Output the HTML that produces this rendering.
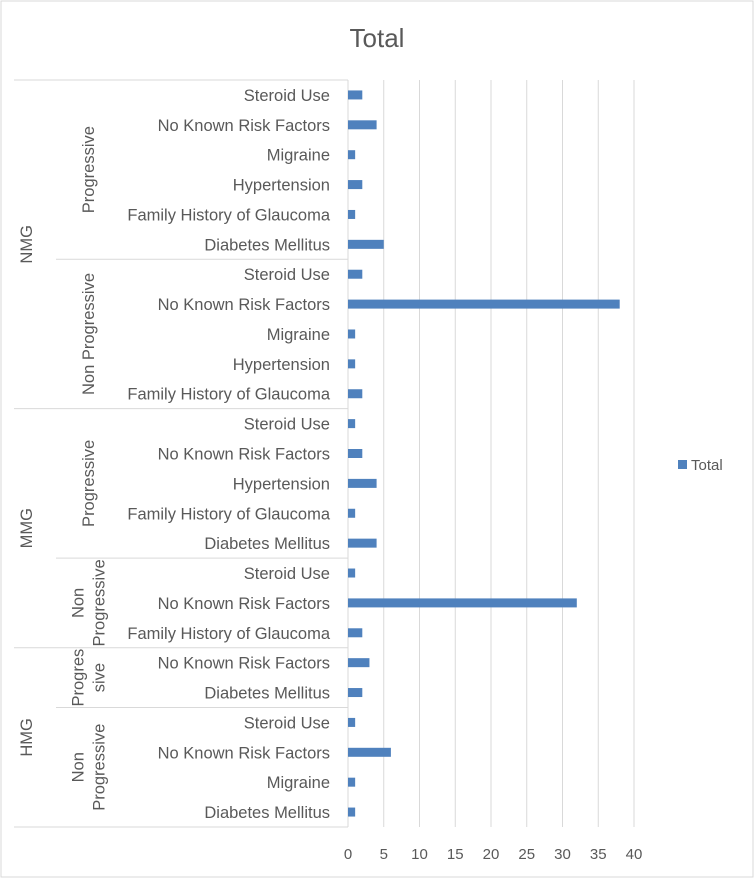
<!DOCTYPE html>
<html><head><meta charset="utf-8"><style>
body{margin:0;background:#fff}
svg{display:block;font-family:"Liberation Sans",sans-serif}
</style></head><body>
<svg id="c" width="755" height="879">
<rect x="1" y="1" width="752" height="876" fill="#fff" stroke="#d9d9d9"/>
<text x="377" y="47" text-anchor="middle" font-size="26" fill="#595959">Total</text>
<g id="g"></g>
<rect x="678" y="460" width="9" height="9" fill="#4f81bd"/>
<text x="691" y="470" font-size="15" fill="#595959">Total</text>
</svg>
<script>
const categories=["Steroid Use","No Known Risk  Factors","Migraine","Hypertension","Family History of Glaucoma","Diabetes Mellitus","Steroid Use","No Known Risk  Factors","Migraine","Hypertension","Family History of Glaucoma","Steroid Use","No Known Risk  Factors","Hypertension","Family History of Glaucoma","Diabetes Mellitus","Steroid Use","No Known Risk  Factors","Family History of Glaucoma","No Known Risk  Factors","Diabetes Mellitus","Steroid Use","No Known Risk  Factors","Migraine","Diabetes Mellitus"];
const values=[2,4,1,2,1,5,2,38,1,1,2,1,2,4,1,4,1,32,2,3,2,1,6,1,1];
const ticks=[0,5,10,15,20,25,30,35,40];
const subGroups=[["Progressive",0,6],["Non Progressive",6,5],["Progressive",11,5],["Non|Progressive",16,3],["Progres|sive",19,2],["Non|Progressive",21,4]];
const topGroups=[["NMG",0,11],["MMG",11,8],["HMG",19,6]];
const g=document.getElementById('g');const NS="http://www.w3.org/2000/svg";
const x0=348,xPer=7.15,topY=80,botY=827;
const rows=categories.length;const rH=(botY-topY)/rows;
const X=v=>x0+v*xPer, Y=i=>topY+rH*(i+0.5);
function el(t,a,txt){const e=document.createElementNS(NS,t);for(const k in a)e.setAttribute(k,a[k]);if(txt!=null)e.textContent=txt;g.appendChild(e);return e;}
ticks.forEach(t=>{
 const l=el('line',{x1:X(t),x2:X(t),y1:topY,y2:botY,stroke:'#d9d9d9'});
 
 
 const tx=el('text',{x:X(t),y:859,'text-anchor':'middle','font-size':15,fill:'#595959'},String(t));
 
 
});
categories.forEach((c,i)=>{
 const b=el('rect',{x:X(0),y:Y(i)-4.5,width:X(values[i])-X(0),height:9,fill:'#4f81bd'});
 
 
 const t=el('text',{x:330,y:Y(i)+6,'text-anchor':'end','font-size':16.5,fill:'#595959'},c);
 
 
});
const lines=[[14,topY],[56,Y(6)-rH/2],[14,Y(11)-rH/2],[56,Y(16)-rH/2],[14,Y(19)-rH/2],[56,Y(21)-rH/2],[14,botY]];
lines.forEach(([xs,y])=>{const l=el('line',{x1:xs,x2:x0,y1:y,y2:y,stroke:'#d9d9d9'});
 
 });
function vtext(lbl,cx,cy){const parts=lbl.split('|');const lh=21;
 parts.forEach((p,k)=>{const x=cx+(k-(parts.length-1)/2)*lh+6;
  const t=el('text',{x:x,y:cy,'text-anchor':'middle','font-size':16.5,fill:'#595959',transform:`rotate(-90 ${x} ${cy})`},p);
  
  });}
subGroups.forEach(([l,s,c])=>vtext(l,88,topY+rH*(s+c/2)));
topGroups.forEach(([l,s,c])=>vtext(l,26,topY+rH*(s+c/2)));
</script>
</body></html>
